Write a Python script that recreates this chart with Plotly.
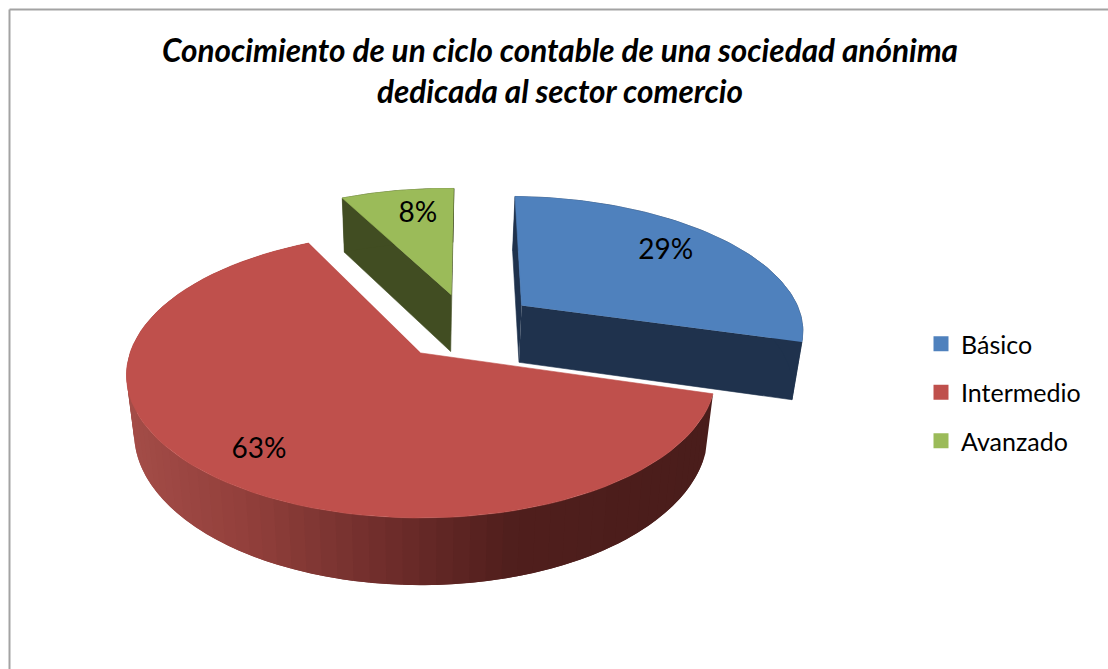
import numpy as np
import plotly.graph_objects as go

# --- data ---
categories = ["Básico", "Intermedio", "Avanzado"]
percent_values = [29.1, 63.25, 7.65]
percent_labels = ["29%", "63%", "8%"]
chart_title = "Conocimiento de un ciclo contable de una sociedad anónima<br>dedicada al sector comercio"

# --- styling / layout ---
W, H = 1108, 669
FONT = "Lato"
top_colors = ["#4F81BD", "#BF504C", "#9BBB59"]
side_colors = ["#1F324D", None, "#414D22"]
wall_stops_x = [130, 250, 400, 520, 712]
wall_stops_rgb = [(164, 77, 72), (147, 64, 60), (110, 45, 43), (80, 31, 29), (74, 29, 27)]

# projection of the tilted disc
CX, CY = 421, 353
RX, A, K = 291, 139.4, 0.155
START_DEG = 1.5
explode = [(0.365, 0.36), (0.0, 0.0), (0.112, 0.445)]   # disc-plane offset per slice
label_polar = [(0.76, -3.4), (0.794, -0.7), (0.768, 2.9)]  # radius, angular nudge
LABEL_DY = 3


def project(X, Y):
    d = 1 + K * Y
    return CX + RX * X / d, CY - A * Y / d


def drop(x, y):
    x, y = np.asarray(x, float), np.asarray(y, float)
    dy = 59 + np.where(y > 392, 0.065, 0.025) * (y - 392)
    return x - 0.026 * (x - CX), y + dy


def arc(i, a0, a1, n=80, r=1.0):
    t = np.radians(np.linspace(a0, a1, n))
    ox, oy = explode[i]
    return project(ox + r * np.sin(t), oy + r * np.cos(t))


def poly(x, y, color, lw=0.6):
    return go.Scatter(x=list(x), y=list(y), mode="lines", fill="toself", fillcolor=color,
                      line=dict(color=color, width=lw), hoverinfo="skip", showlegend=False)


def wall_color(x):
    c = [np.interp(x, wall_stops_x, [s[k] for s in wall_stops_rgb]) for k in range(3)]
    return "rgb(%d,%d,%d)" % tuple(int(v) for v in c)


total = sum(percent_values)
edges = START_DEG + np.cumsum([0] + percent_values) * 360.0 / total

fig = go.Figure()

# drawing order: green, blue, red (back to front)
for i in [2, 0, 1]:
    a0, a1 = edges[i], edges[i + 1]
    ax, ay = project(*explode[i])
    tx, ty = arc(i, a0, a1)
    if side_colors[i]:
        # cut faces and outer wall, extruded downward
        for ex, ey in [(tx[0], ty[0]), (tx[-1], ty[-1])]:
            bx, by = drop([ax, ex], [ay, ey])
            fig.add_trace(poly([ax, ex, bx[1], bx[0]], [ay, ey, by[1], by[0]], side_colors[i]))
        bx, by = drop(tx, ty)
        fig.add_trace(poly(np.r_[tx, bx[::-1]], np.r_[ty, by[::-1]], side_colors[i]))
    else:
        # shaded outer wall: overlapping bands, each covering the seam of the one before
        sx, sy = arc(i, a0, a1, n=241)
        bx, by = drop(sx, sy)
        band = 3
        for j in range(0, len(sx) - 1, band):
            k = min(j + band * 2, len(sx) - 1)
            col = wall_color(sx[j])
            fig.add_trace(poly(np.r_[sx[j:k + 1], bx[j:k + 1][::-1]],
                               np.r_[sy[j:k + 1], by[j:k + 1][::-1]], col, 0))
    fig.add_trace(poly(np.r_[ax, tx], np.r_[ay, ty], top_colors[i]))

# percent labels
lx, ly = [], []
for i in range(3):
    r, nudge = label_polar[i]
    mid = (edges[i] + edges[i + 1]) / 2 + nudge
    x, y = arc(i, mid, mid, n=1, r=r)
    lx.append(x[0]); ly.append(y[0] + LABEL_DY)
fig.add_trace(go.Scatter(x=lx, y=ly, mode="text", text=percent_labels, hoverinfo="skip", showlegend=False,
                         textfont=dict(family=FONT, size=28, color="#000000"), textposition="middle center"))

# legend entries
for name, col in zip(categories, top_colors):
    fig.add_trace(go.Scatter(x=[-100], y=[-100], mode="markers", name=name, legendgroup=name,
                             marker=dict(symbol="square", size=15, color=col)))

fig.update_layout(
    width=W, height=H, margin=dict(l=0, r=0, t=0, b=0),
    paper_bgcolor="white", plot_bgcolor="white",
    xaxis=dict(range=[0, W], visible=False, fixedrange=True),
    yaxis=dict(range=[H, 0], visible=False, fixedrange=True),
    font=dict(family=FONT, color="#000000"),
    title=dict(text="<b><i>" + chart_title.replace("<br>", "</i></b><br><b><i>") + "</i></b>",
               x=560 / W, xanchor="center", y=1 - 62 / H, yanchor="middle",
               font=dict(family=FONT, size=31.5, color="#000000")),
    legend=dict(x=921 / W, xanchor="left", y=1 - 321 / H, yanchor="top", font=dict(family=FONT, size=25),
                bgcolor="rgba(0,0,0,0)", tracegroupgap=13, itemwidth=30, itemsizing="trace", itemclick=False),
    shapes=[dict(type="line", xref="x", yref="y", x0=9.5, x1=9.5, y0=9.5, y1=H, line=dict(color="#A3A3A3", width=2)),
            dict(type="line", xref="x", yref="y", x0=9.5, x1=W, y0=9.5, y1=9.5, line=dict(color="#A3A3A3", width=2))],
)

fig.write_html("out.html", config=dict(displayModeBar=False),
               post_script="document.body.style.margin='0';document.body.style.overflow='hidden';")
